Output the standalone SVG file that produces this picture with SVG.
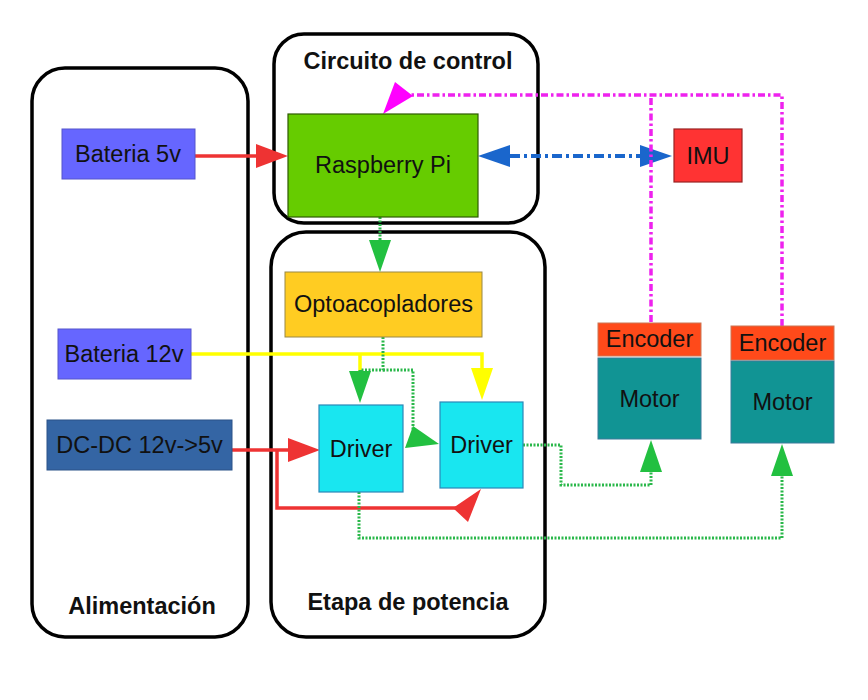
<svg xmlns="http://www.w3.org/2000/svg" width="868" height="700" viewBox="0 0 868 700">
<defs>
<style>
.cont{fill:none;stroke:#000;stroke-width:3.5}
.title{font-family:"Liberation Sans",Arial,sans-serif;font-weight:bold;font-size:23.5px;fill:#111;text-anchor:middle}
.lbl{font-family:"Liberation Sans",Arial,sans-serif;font-size:23.5px;fill:#111;text-anchor:middle}
.bat{fill:#6666ff;stroke:#5555cc;stroke-width:1}
.dc{fill:#3465a4;stroke:#2a5288;stroke-width:1}
.rpi{fill:#66cc00;stroke:#2d5a00;stroke-width:1.2}
.imu{fill:#ff3333;stroke:#992222;stroke-width:1.2}
.opto{fill:#ffcc22;stroke:#998844;stroke-width:1}
.drv{fill:#19e6f0;stroke:#2a88b8;stroke-width:1.2}
.enc{fill:#ff4a1a;stroke:#cc7755;stroke-width:1}
.mot{fill:#119494;stroke:#3a7a9a;stroke-width:1}
.red{fill:none;stroke:#ee3333;stroke-width:3.5}
.yel{fill:none;stroke:#ffff00;stroke-width:3.5}
.grn{fill:none;stroke:#2ab84a;stroke-width:3;stroke-dasharray:2 1.5}
.blu{fill:none;stroke:#1a66cc;stroke-width:4;stroke-dasharray:10 4 3 4}
.mag{fill:none;stroke:#ee22ee;stroke-width:3.5;stroke-dasharray:7 3 2.5 3}
</style>
<marker id="mr" markerUnits="userSpaceOnUse" markerWidth="32" markerHeight="24" viewBox="0 0 32 24" refX="0" refY="12" orient="auto"><path d="M0,0 L32,12 L0,24z" fill="#ee3333"/></marker>
<marker id="mg" markerUnits="userSpaceOnUse" markerWidth="32" markerHeight="22" viewBox="0 0 32 22" refX="0" refY="11" orient="auto"><path d="M0,0 L32,11 L0,22z" fill="#22c040"/></marker>
<marker id="my" markerUnits="userSpaceOnUse" markerWidth="32" markerHeight="22" viewBox="0 0 32 22" refX="0" refY="11" orient="auto"><path d="M0,0 L32,11 L0,22z" fill="#ffff00"/></marker>
<marker id="mb" markerUnits="userSpaceOnUse" markerWidth="32" markerHeight="22" viewBox="0 0 32 22" refX="0" refY="11" orient="auto-start-reverse"><path d="M0,0 L32,11 L0,22z" fill="#1a66cc"/></marker>
</defs>
<rect width="868" height="700" fill="#fff"/>

<g id="alimentacion">
<rect class="cont" x="32" y="68" width="216" height="569" rx="33"/>
<text class="title" x="142" y="614">Alimentación</text>
</g>
<g id="circuito-control">
<rect class="cont" x="274" y="34" width="264" height="189" rx="30"/>
<text class="title" x="408" y="69">Circuito de control</text>
</g>
<g id="etapa-potencia">
<rect class="cont" x="271" y="232" width="274" height="405" rx="35"/>
<text class="title" x="408" y="610">Etapa de potencia</text>
</g>

<g id="connectors">
<path class="red" d="M195,156 H256" marker-end="url(#mr)"/>
<path class="red" d="M232,450 H288" marker-end="url(#mr)"/>
<path class="red" d="M277,450 V508 H458"/>
<polygon points="453,508 468,522 481,489" fill="#ee3333"/>
<path class="yel" d="M191,354 H482 V368" marker-end="url(#my)"/>
<path class="yel" d="M360,354 V371"/>
<path class="blu" d="M510,156 H640" marker-start="url(#mb)" marker-end="url(#mb)"/>
<path class="mag" d="M651,322 V95"/>
<path class="mag" d="M782,326 V95 H410"/>
<polygon points="383,114 395,82 413,96" fill="#ff00ff"/>
<path class="grn" d="M380,217 V240" marker-end="url(#mg)"/>
<path class="grn" d="M383,337 V370 H360 V371" marker-end="url(#mg)"/>
<path class="grn" d="M383,370 H413 V430"/>
<polygon points="405,448 413,426 439,444" fill="#22c040"/>
<path class="grn" d="M523,445 H561 V485 H651 V472" marker-end="url(#mg)"/>
<path class="grn" d="M359,492 V538 H782 V476" marker-end="url(#mg)"/>
</g>

<g id="bateria5v">
<rect class="bat" x="62" y="129" width="133" height="50"/>
<text class="lbl" x="128" y="162">Bateria 5v</text>
</g>
<g id="bateria12v">
<rect class="bat" x="58" y="329" width="133" height="50"/>
<text class="lbl" x="124" y="362">Bateria 12v</text>
</g>
<g id="dcdc">
<rect class="dc" x="47" y="420" width="185" height="50"/>
<text class="lbl" x="139.5" y="453">DC-DC 12v-&gt;5v</text>
</g>
<g id="raspberry">
<rect class="rpi" x="288" y="114" width="190" height="103"/>
<text class="lbl" x="383" y="173">Raspberry Pi</text>
</g>
<g id="imu">
<rect class="imu" x="674" y="129" width="68" height="53"/>
<text class="lbl" x="708" y="164">IMU</text>
</g>
<g id="optoacopladores">
<rect class="opto" x="285" y="272" width="197" height="65"/>
<text class="lbl" x="383.5" y="312">Optoacopladores</text>
</g>
<g id="driver1">
<rect class="drv" x="319" y="405" width="84" height="87"/>
<text class="lbl" x="361" y="457">Driver</text>
</g>
<g id="driver2">
<rect class="drv" x="440" y="402" width="83" height="86"/>
<text class="lbl" x="481.5" y="453">Driver</text>
</g>
<g id="encoder1">
<rect class="enc" x="598" y="323" width="103" height="33"/>
<text class="lbl" x="649.5" y="347">Encoder</text>
</g>
<g id="motor1">
<rect class="mot" x="598" y="358" width="103" height="81"/>
<text class="lbl" x="649.5" y="407">Motor</text>
</g>
<g id="encoder2">
<rect class="enc" x="731" y="326" width="103" height="34"/>
<text class="lbl" x="782.5" y="351">Encoder</text>
</g>
<g id="motor2">
<rect class="mot" x="731" y="361" width="103" height="82"/>
<text class="lbl" x="782.5" y="410">Motor</text>
</g>
</svg>
